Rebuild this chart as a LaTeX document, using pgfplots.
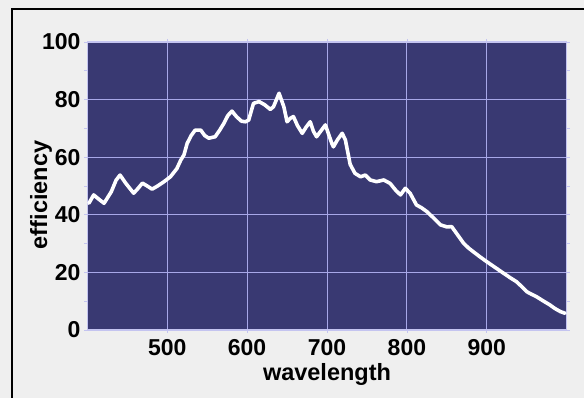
\documentclass[border=0pt]{standalone}
\usepackage{fontspec}
\setmainfont{Liberation Sans}
\usepackage{pgfplots}
\pgfplotsset{compat=1.18}
\definecolor{figbg}{RGB}{239,239,239}
\definecolor{plotbg}{RGB}{57,57,114}
\definecolor{gridc}{RGB}{168,168,232}
\definecolor{axisc}{RGB}{196,196,240}
\begin{document}
\begin{tikzpicture}
\useasboundingbox (0,0) rectangle (584pt,398pt);
\fill[figbg] (0,0) rectangle (584pt,398pt);
\draw[black, line width=1.6pt] (11.7pt,0) -- (11.7pt,388.7pt) -- (584pt,388.7pt);
\begin{axis}[
  at={(87.3pt,68pt)}, anchor=south west,
  scale only axis, width=479.4pt, height=288pt,
  xmin=400, xmax=1000, ymin=0, ymax=100,
  xtick={500,600,700,800,900},
  ytick={0,20,40,60,80,100},
  minor ytick={10,30,50,70,90},
  axis background/.style={fill=plotbg},
  axis line style={draw=axisc, line width=1.5pt},
  grid=major,
  major grid style={draw=gridc, line width=1pt},
  tick align=outside,
  major tick length=3pt, minor tick length=3pt,
  every tick/.style={draw=axisc, line width=0.8pt},
  /pgf/number format/assume math mode=true,
  ticklabel style={font=\fontsize{23}{23}\selectfont\bfseries, inner sep=0pt},
  yticklabel style={anchor=east, xshift=-3.6pt},
  xticklabel style={anchor=north, yshift=-6pt},
  xlabel={wavelength}, ylabel={efficiency},
  label style={font=\fontsize{23.5}{23.5}\selectfont\bfseries, inner sep=0pt},
  xlabel style={at={(axis description cs:0.5,0)}, anchor=north, yshift=-33pt},
  ylabel style={at={(axis description cs:0,0.5)}, anchor=north, yshift=57.3pt, xshift=-9pt},
]
\addplot[white, line width=3.6pt, line join=round, line cap=round] coordinates {
(402,44) (408,46.9) (414,45.5) (421,44) (430,48) (436,52) (441,53.8) (448,51)
(458,47.5) (463,49) (469,51) (475,50) (481,48.9) (488,50) (496,51.5) (504,53.2)
(512,56) (517,59) (521,60.8) (525,64.8) (530,67.5) (535,69.4) (542,69.4) (547,67.5)
(552,66.6) (560,67.1) (566,69.5) (571,71.8) (576,74.5) (581,76) (587,74) (593,72.5)
(598,72.3) (602,72.9) (608,78.7) (615,79.3) (622,78.2) (629,76.6) (633,77.5) (640,82.2)
(646,77.5) (650,72.3) (654,73.5) (658,74.1) (663,71) (669,68.3) (674,70.5) (679,72.3)
(683,69) (687,67.1) (692,69) (698,71.2) (702,68) (706,64.8) (708,63.6) (713,66)
(719,68.3) (723,66) (729,57.5) (735,54.4) (742,53.2) (748,53.8) (754,52.1) (762,51.5)
(771,52.1) (779,50.9) (786,48.5) (792,46.9) (798,49.2) (804,47.5) (812,43.4) (818,42.5)
(825,41.1) (833,39) (842,36.5) (850,35.8) (856,35.9) (862,33.6) (871,30.1) (877,28.5)
(883,27.2) (891,25.5) (900,23.7) (910,21.8) (921,19.7) (929,18.2) (937,16.8) (944,15)
(950,13.3) (956,12.4) (962,11.6) (970,10.2) (979,8.7) (985,7.5) (992,6.4) (998,5.8)
};
\end{axis}
\end{tikzpicture}
\end{document}
